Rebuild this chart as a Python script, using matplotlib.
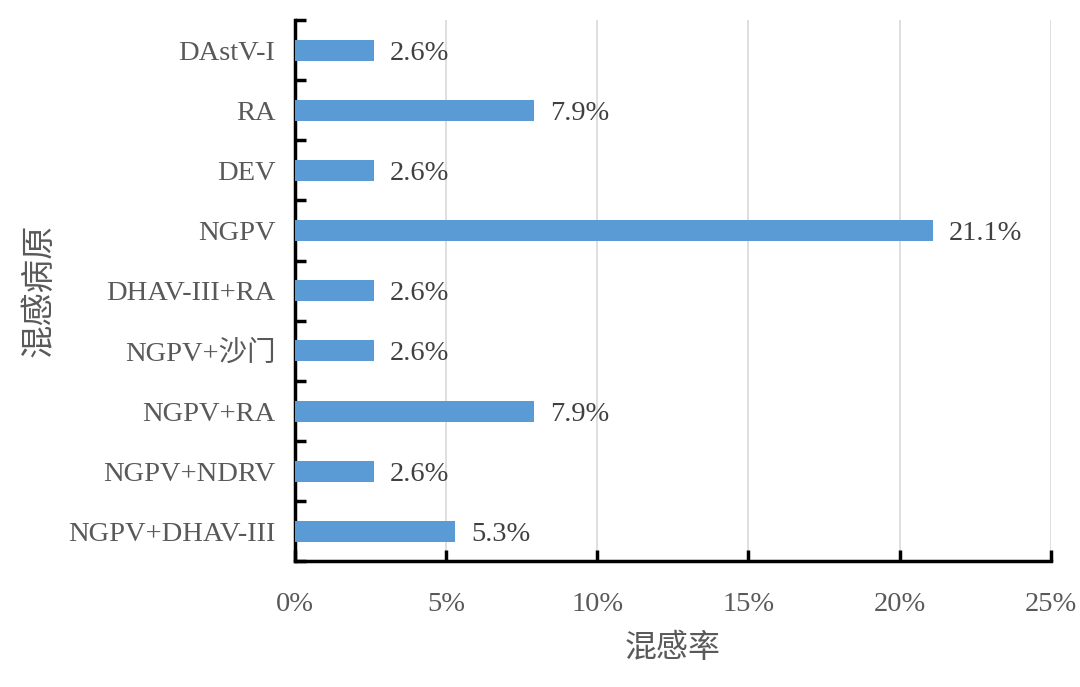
import matplotlib.pyplot as plt
from matplotlib.ticker import FixedLocator, PercentFormatter

# 从上到下的顺序
pathogens = [
    "DAstV-I",
    "RA",
    "DEV",
    "NGPV",
    "DHAV-III+RA",
    "NGPV+沙门",
    "NGPV+RA",
    "NGPV+NDRV",
    "NGPV+DHAV-III",
]
rates = [2.6, 7.9, 2.6, 21.1, 2.6, 2.6, 7.9, 2.6, 5.3]
x_ticks = [0, 5, 10, 15, 20, 25]

FONT = ["Liberation Serif", "Noto Sans CJK SC"]
TEXT_COLOR = "#595959"
BAR_COLOR = "#5b9bd5"

plt.rcParams["font.family"] = FONT


def main() -> None:
    fig = plt.figure(figsize=(10.8, 6.87), dpi=100)
    ax = fig.add_axes([0.2731, 0.1827, 0.6998, 0.7882])

    n = len(pathogens)
    ypos = list(range(n - 1, -1, -1))
    ax.barh(ypos, rates, height=0.35, color=BAR_COLOR, zorder=3)

    for y, v in zip(ypos, rates):
        ax.annotate(
            f"{v:.1f}%",
            (v, y),
            xytext=(16, 0),
            textcoords="offset pixels",
            ha="left",
            va="center_baseline",
            fontsize=20.5,
            color="#404040",
        )

    ax.set_xlim(0, 25)
    ax.set_ylim(-0.5, n - 0.5)
    ax.set_xticks(x_ticks)
    ax.xaxis.set_major_formatter(PercentFormatter(decimals=0))
    ax.grid(axis="x", color="#d9d9d9", linewidth=1.2, zorder=0)

    # 类别标签放在中间位置，刻度线画在类别分界处
    ax.set_yticks(ypos)
    ax.set_yticklabels(pathogens)
    ax.yaxis.set_minor_locator(FixedLocator([i - 0.5 for i in range(n + 1)]))
    ax.tick_params(axis="y", which="major", length=0, pad=14, labelsize=20.5, labelcolor=TEXT_COLOR)
    ax.tick_params(axis="y", which="minor", direction="in", length=8, width=2.5, color="black")
    ax.tick_params(axis="x", direction="in", length=8, width=2.5, color="black",
                   pad=22, labelsize=20.5, labelcolor=TEXT_COLOR)

    for side in ("top", "right"):
        ax.spines[side].set_visible(False)
    for side in ("left", "bottom"):
        ax.spines[side].set_linewidth(2.5)
        ax.spines[side].set_color("black")

    ax.set_xlabel("混感率", fontsize=23, color=TEXT_COLOR, labelpad=12)
    ax.set_ylabel("混感病原", fontsize=24, color=TEXT_COLOR)
    ax.yaxis.set_label_coords(-0.317, 0.5)

    fig.savefig("out.png", dpi=100)


if __name__ == "__main__":
    main()
